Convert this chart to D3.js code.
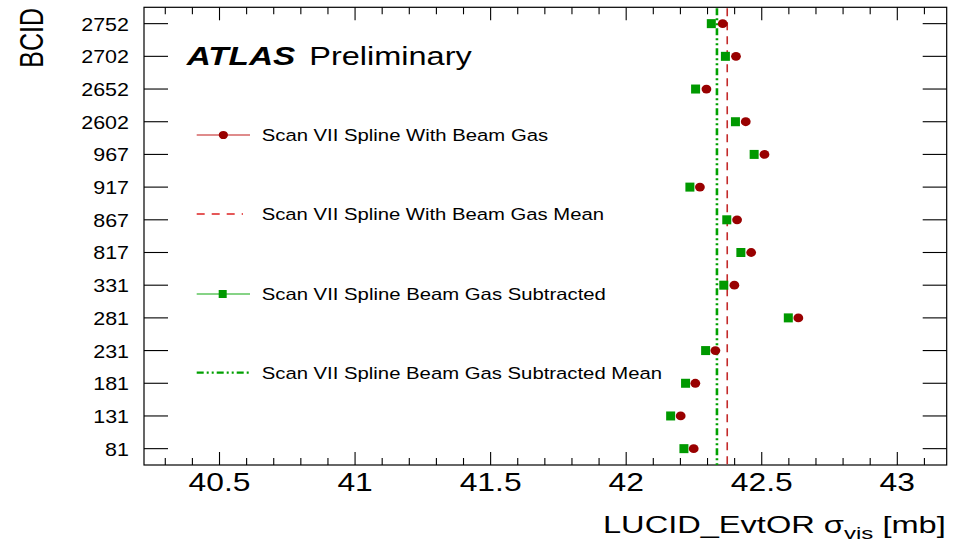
<!DOCTYPE html>
<html>
<head>
<meta charset="utf-8">
<script src="https://cdn.jsdelivr.net/npm/d3@7"></script>
<style>
  html, body { margin: 0; padding: 0; background: #fff; }
  svg { display: block; font-family: "Liberation Sans", Arial, Helvetica, sans-serif; }
</style>
</head>
<body>
<svg id="chart" width="969" height="544"></svg>
<script>
// Bunch crossing IDs, bottom to top
const bcids = ["81", "131", "181", "231", "281", "331", "817", "867", "917", "967", "2602", "2652", "2702", "2752"];
// Visible cross-section per BCID [mb]
const withBeamGas = [42.249, 42.201, 42.255, 42.329, 42.635, 42.399, 42.461, 42.409, 42.272, 42.510, 42.441, 42.296, 42.405, 42.356];
const beamGasSubtracted = [42.213, 42.164, 42.219, 42.293, 42.598, 42.360, 42.423, 42.371, 42.235, 42.472, 42.403, 42.256, 42.366, 42.314];
const xTickLabels = [40.5, 41, 41.5, 42, 42.5, 43];
const legendLabels = [
  "Scan VII Spline With Beam Gas",
  "Scan VII Spline With Beam Gas Mean",
  "Scan VII Spline Beam Gas Subtracted",
  "Scan VII Spline Beam Gas Subtracted Mean"
];

const RED = "#990000", GREEN = "#009900";
const frame = { left: 144, right: 946.7, top: 7.3, bottom: 465 };

const svg = d3.select("#chart");

const x = d3.scaleLinear().domain([40.2215, 43.1822]).range([frame.left, frame.right]);
const y = d3.scaleBand().domain(bcids.slice().reverse()).range([frame.top, frame.bottom]).padding(0);
const yc = d => y(d) + y.bandwidth() / 2;

// Horizontally stretch a text element so it spans a given width.
function fitWidth(sel, target, anchorX, baseY, align) {
  const node = sel.node();
  const w = node.getComputedTextLength();
  const s = target / w;
  let x0 = anchorX;
  if (align === "end") x0 = anchorX - target;
  if (align === "middle") x0 = anchorX - target / 2;
  sel.attr("text-anchor", "start").attr("transform", `translate(${x0},${baseY}) scale(${s},1)`);
}

// Frame
svg.append("rect")
  .attr("x", frame.left).attr("y", frame.top)
  .attr("width", frame.right - frame.left).attr("height", frame.bottom - frame.top)
  .attr("fill", "none").attr("stroke", "#000").attr("stroke-width", 1.2);

// X ticks: minor every 0.1, major every 0.5, on bottom and top
const minorTicks = d3.range(Math.ceil(x.domain()[0] * 10), Math.floor(x.domain()[1] * 10) + 1).map(v => v / 10);
const gTicks = svg.append("g").attr("stroke", "#000").attr("stroke-width", 1.1);
minorTicks.forEach(v => {
  const major = Math.abs(v * 2 - Math.round(v * 2)) < 1e-6;
  const len = major ? 13 : 7;
  const px = x(v);
  gTicks.append("line").attr("x1", px).attr("x2", px).attr("y1", frame.bottom).attr("y2", frame.bottom - len);
  gTicks.append("line").attr("x1", px).attr("x2", px).attr("y1", frame.top).attr("y2", frame.top + len);
});

// Y ticks on both sides
bcids.forEach(b => {
  gTicks.append("line").attr("x1", frame.left).attr("x2", frame.left + 24).attr("y1", yc(b)).attr("y2", yc(b));
  gTicks.append("line").attr("x1", frame.right).attr("x2", frame.right - 24).attr("y1", yc(b)).attr("y2", yc(b));
});

// X tick labels
xTickLabels.forEach(v => {
  svg.append("text")
    .attr("font-size", 26.5)
    .attr("text-anchor", "middle")
    .attr("transform", `translate(${x(v)},491) scale(1.2,1)`)
    .text(v);
});

// Y tick labels
bcids.forEach(b => {
  svg.append("text")
    .attr("font-size", 19)
    .attr("text-anchor", "end")
    .attr("transform", `translate(129,${yc(b) + 7}) scale(1.13,1)`)
    .text(b);
});

// Axis titles
const xTitle = svg.append("text").attr("font-size", 23);
xTitle.append("tspan").text("LUCID_EvtOR \u03C3");
xTitle.append("tspan").attr("font-size", 17).attr("dy", 6).text("vis");
xTitle.append("tspan").attr("dy", -6).text(" [mb]");
fitWidth(xTitle, 343, 946, 533, "end");

svg.append("text")
  .attr("font-size", 25)
  .attr("text-anchor", "end")
  .attr("transform", "translate(43,8) rotate(-90) scale(1,1.35)")
  .text("BCID");

// Mean lines
const meanWith = d3.mean(withBeamGas);
const meanSub = d3.mean(beamGasSubtracted);
svg.append("line")
  .attr("x1", x(meanWith)).attr("x2", x(meanWith))
  .attr("y1", frame.top + 1).attr("y2", frame.bottom)
  .attr("stroke", "#c42a2a").attr("stroke-width", 1.6).attr("stroke-dasharray", "8,6");
svg.append("line")
  .attr("x1", x(meanSub)).attr("x2", x(meanSub))
  .attr("y1", frame.top + 1).attr("y2", frame.bottom)
  .attr("stroke", "#00a000").attr("stroke-width", 2.6).attr("stroke-dasharray", "7,3,2,3,2,3");

// Points: subtracted (squares), then with-beam-gas (circles) on top
const sq = 9;
svg.append("g").selectAll("rect").data(bcids).join("rect")
  .attr("x", (d, i) => x(beamGasSubtracted[i]) - sq / 2)
  .attr("y", d => yc(d) - sq / 2)
  .attr("width", sq).attr("height", sq)
  .attr("fill", GREEN);
svg.append("g").selectAll("ellipse").data(bcids).join("ellipse")
  .attr("cx", (d, i) => x(withBeamGas[i]))
  .attr("cy", d => yc(d))
  .attr("rx", 4.9).attr("ry", 4.4)
  .attr("fill", RED);

// ATLAS label
const atlas = svg.append("text").attr("font-size", 25.6).attr("font-weight", "bold").attr("font-style", "italic").text("ATLAS");
fitWidth(atlas, 108.5, 186.7, 65, "start");
const prelim = svg.append("text").attr("font-size", 25.6).text("Preliminary");
fitWidth(prelim, 162.4, 309.3, 65, "start");

// Legend
const legY = [135, 214, 294, 372.7];
const legEnds = [548, 604, 606, 662];
const lx0 = 196.7, lx1 = 250;
const lg = svg.append("g");
lg.append("line").attr("x1", lx0).attr("x2", lx1).attr("y1", legY[0]).attr("y2", legY[0]).attr("stroke", "#c01818").attr("stroke-width", 1.2);
lg.append("ellipse").attr("cx", (lx0 + lx1) / 2).attr("cy", legY[0]).attr("rx", 4.6).attr("ry", 4.1).attr("fill", RED);
lg.append("line").attr("x1", lx0).attr("x2", 243).attr("y1", legY[1]).attr("y2", legY[1]).attr("stroke", "#d22").attr("stroke-width", 1.3).attr("stroke-dasharray", "8,7");
lg.append("line").attr("x1", lx0).attr("x2", lx1).attr("y1", legY[2]).attr("y2", legY[2]).attr("stroke", "#5ec45e").attr("stroke-width", 1.4);
lg.append("rect").attr("x", 222.7 - 4).attr("y", legY[2] - 4).attr("width", 8).attr("height", 8).attr("fill", GREEN);
lg.append("line").attr("x1", lx0).attr("x2", lx1).attr("y1", legY[3]).attr("y2", legY[3]).attr("stroke", "#00a000").attr("stroke-width", 2.2).attr("stroke-dasharray", "7,3,2,3,2,3");
legendLabels.forEach((t, i) => {
  const el = lg.append("text").attr("font-size", 16.7).text(t);
  fitWidth(el, legEnds[i] - 261.7, 261.7, legY[i] + 6, "start");
});
</script>
</body>
</html>
